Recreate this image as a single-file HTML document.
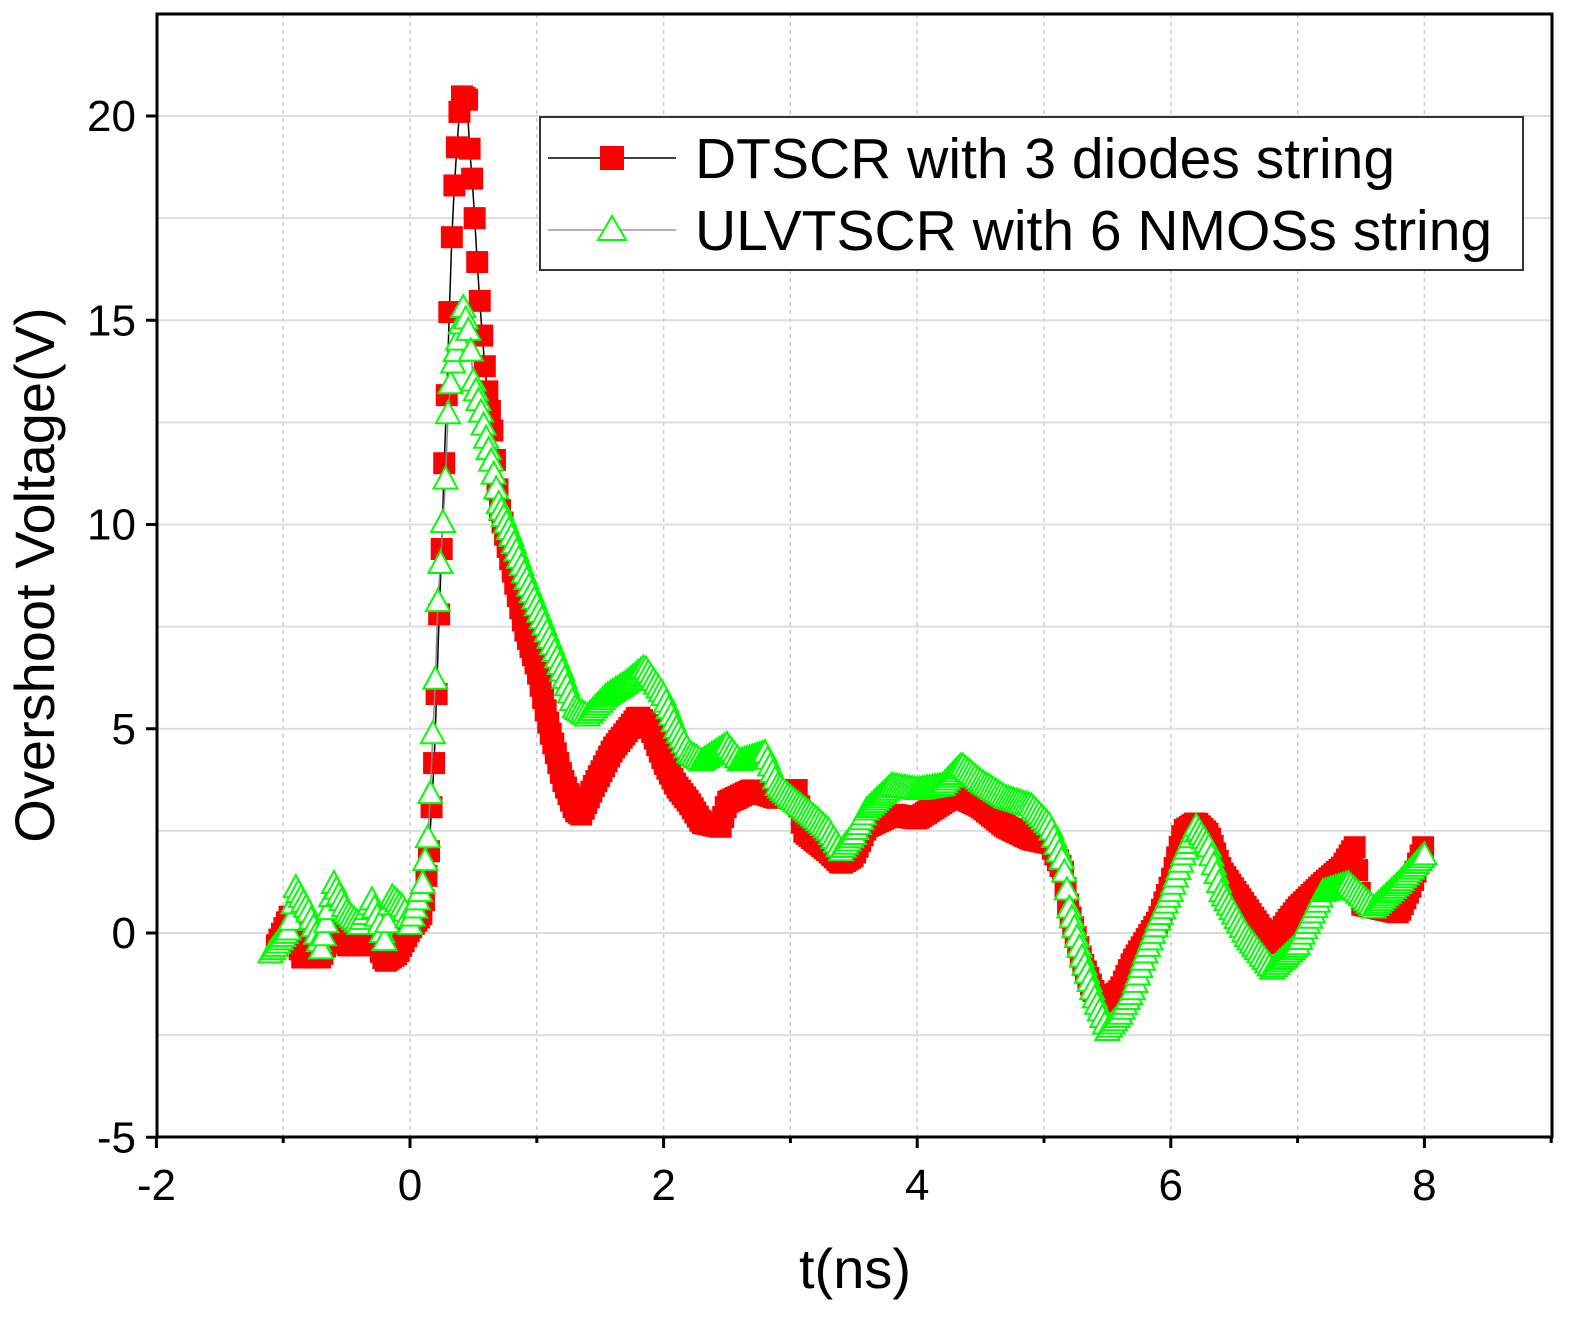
<!DOCTYPE html>
<html><head><meta charset="utf-8"><style>
html,body{margin:0;padding:0;background:#fff;}
svg{display:block;font-family:"Liberation Sans",Arial,sans-serif;}
</style></head><body>
<svg id="s" width="1591" height="1328" viewBox="0 0 1591 1328" xmlns="http://www.w3.org/2000/svg">
<rect x="0" y="0" width="1591" height="1328" fill="#fff"/>
<g id="grid"></g>
<g id="data"></g>
<rect x="157" y="14" width="1395" height="1123" fill="none" stroke="#000" stroke-width="3"/>
<g id="ticks" stroke="#000" stroke-width="3"></g>
<g id="labels" font-size="44" fill="#000"></g>
<text x="855" y="1288" font-size="56" text-anchor="middle">t(ns)</text>
<text transform="translate(54,575) rotate(-90)" font-size="56" text-anchor="middle">Overshoot Voltage(V)</text>
<rect x="540" y="117" width="983" height="153" fill="#fff" stroke="#333" stroke-width="2"/>
<line x1="548" y1="158" x2="676" y2="158" stroke="#000" stroke-width="1.5"/>
<rect x="600" y="146" width="24" height="24" fill="#f00"/>
<text x="695" y="178" font-size="57">DTSCR with 3 diodes string</text>
<line x1="548" y1="230" x2="676" y2="230" stroke="#999" stroke-width="1.5"/>
<polygon points="612,216 626,240 598,240" fill="#fff" stroke="#0f0" stroke-width="2"/>
<text x="695" y="250" font-size="57">ULVTSCR with 6 NMOSs string</text>
</svg>
<script>
var NS="http://www.w3.org/2000/svg";
function X(t){return 410+t*126.8;}
function Y(v){return 933-v*40.85;}
function el(p,n,a){var e=document.createElementNS(NS,n);for(var k in a)e.setAttribute(k,a[k]);p.appendChild(e);return e;}
var g=document.getElementById('grid');
for(var t=-1;t<=8;t++){el(g,'line',{x1:X(t),x2:X(t),y1:14,y2:1137,stroke:'#ccc','stroke-width':1.5,'stroke-dasharray':'4,4'});}
for(var v=-2.5;v<=20;v+=2.5){el(g,'line',{x1:157,x2:1552,y1:Y(v),y2:Y(v),stroke:'#ddd','stroke-width':2});}
var tk=document.getElementById('ticks'),lb=document.getElementById('labels');
for(var t=-2;t<=8;t+=2){el(tk,'line',{x1:X(t),x2:X(t),y1:1137,y2:1148});var e=el(lb,'text',{x:X(t),y:1200,'text-anchor':'middle'});e.textContent=t;}
for(var t=-1;t<=9;t+=2){el(tk,'line',{x1:X(t),x2:X(t),y1:1137,y2:1143});}
for(var v=-5;v<=20;v+=5){el(tk,'line',{x1:146,x2:157,y1:Y(v),y2:Y(v)});var e=el(lb,'text',{x:136,y:Y(v)+15,'text-anchor':'end'});e.textContent=v;}
var R=[[-1.05,-0.3],[-0.95,0.4],[-0.85,-0.6],[-0.7,-0.6],[-0.6,0.3],[-0.5,-0.3],[-0.35,-0.3],[-0.3,0.1],[-0.2,-0.7],[-0.1,-0.5],[0,0.1],[0.1,0.5],[0.15,2],[0.2,4.7],[0.22,7],[0.25,9.4],[0.27,11.5],[0.3,14],[0.32,16.4],[0.35,18.3],[0.38,19.7],[0.4,20.5],[0.45,20.4],[0.47,19.2],[0.5,18.1],[0.52,16.9],[0.56,15],[0.6,13.5],[0.65,12.3],[0.7,10.5],[0.8,9],[0.9,7.5],[1.0,6.5],[1.1,5],[1.2,3.8],[1.3,3.0],[1.35,2.9],[1.45,3.6],[1.6,4.5],[1.8,5.3],[1.9,5],[2.0,4.2],[2.1,3.6],[2.2,3.2],[2.3,2.7],[2.45,2.6],[2.5,3.2],[2.7,3.5],[2.9,3.3],[3.05,3.5],[3.1,2.5],[3.3,2.0],[3.4,1.7],[3.5,1.9],[3.6,2.6],[3.8,2.9],[4.0,2.8],[4.1,3.0],[4.3,3.4],[4.5,3.1],[4.7,2.6],[4.9,2.3],[5.05,2.2],[5.15,1.5],[5.2,0.5],[5.3,-0.7],[5.4,-1.5],[5.5,-1.7],[5.6,-1.4],[5.7,-0.7],[5.8,-0.2],[5.9,0.3],[6.0,1.2],[6.1,2.5],[6.2,2.7],[6.3,2.4],[6.4,1.5],[6.6,0.6],[6.8,-0.3],[6.9,0.2],[7.0,0.6],[7.2,1.2],[7.35,1.6],[7.45,2.1],[7.5,0.7],[7.8,0.5],[7.9,1.2],[8.0,2.2]];
var G=[[-1.1,-0.5],[-0.95,0.1],[-0.9,1.1],[-0.8,0.5],[-0.7,-0.4],[-0.6,1.2],[-0.5,0.5],[-0.4,0.2],[-0.3,0.8],[-0.2,-0.2],[-0.15,0.9],[-0.05,0.6],[0,0.2],[0.1,1.2],[0.15,2.6],[0.17,4.2],[0.2,6.2],[0.22,8.1],[0.25,9.5],[0.28,11.1],[0.3,12.7],[0.33,13.8],[0.38,14.5],[0.42,15.3],[0.47,14.6],[0.5,13.5],[0.55,12.9],[0.6,12.1],[0.65,11.4],[0.7,10.5],[0.8,9.7],[0.9,8.8],[1.0,8.0],[1.1,7.2],[1.2,6.4],[1.3,5.5],[1.4,5.3],[1.55,5.8],[1.7,6.1],[1.85,6.5],[2.0,5.8],[2.1,5.0],[2.2,4.4],[2.3,4.2],[2.5,4.6],[2.6,4.2],[2.8,4.4],[2.9,3.6],[3.0,3.3],[3.2,2.8],[3.3,2.5],[3.4,2.0],[3.5,2.4],[3.6,3.0],[3.8,3.6],[4.0,3.5],[4.2,3.6],[4.35,4.1],[4.5,3.7],[4.7,3.3],[4.9,3.1],[5.05,2.6],[5.15,1.7],[5.2,0.6],[5.3,-0.6],[5.4,-1.6],[5.5,-2.4],[5.6,-2.0],[5.7,-1.4],[5.8,-0.5],[5.9,0.3],[6.0,1.0],[6.1,1.9],[6.2,2.6],[6.3,2.1],[6.4,1.0],[6.6,-0.1],[6.8,-0.9],[7.0,-0.3],[7.2,1.0],[7.4,1.2],[7.5,0.9],[7.6,0.6],[7.8,1.2],[8.0,1.9]];
function samp(K){var out=[];var t0=K[0][0],t1=K[K.length-1][0];for(var t=t0;t<=t1+1e-9;t+=0.02){var i=0;while(i<K.length-2&&K[i+1][0]<t)i++;var a=K[i],b=K[i+1];var f=(t-a[0])/(b[0]-a[0]);f=Math.max(0,Math.min(1,f));out.push([X(t),Y(a[1]+f*(b[1]-a[1]))]);}return out;}
var d=document.getElementById('data');
var rp=samp(R),gp=samp(G);
el(d,'polyline',{points:rp.map(p=>p.join(',')).join(' '),fill:'none',stroke:'#000','stroke-width':1.5});
rp.forEach(p=>el(d,'rect',{x:p[0]-11,y:p[1]-11,width:22,height:22,fill:'#f00'}));
el(d,'polyline',{points:gp.map(p=>p.join(',')).join(' '),fill:'none',stroke:'#888','stroke-width':1.5});
gp.forEach(p=>el(d,'polygon',{points:(p[0])+','+(p[1]-13)+' '+(p[0]+12)+','+(p[1]+9)+' '+(p[0]-12)+','+(p[1]+9),fill:'#fff',stroke:'#0f0','stroke-width':2}));
</script>
</body></html>
